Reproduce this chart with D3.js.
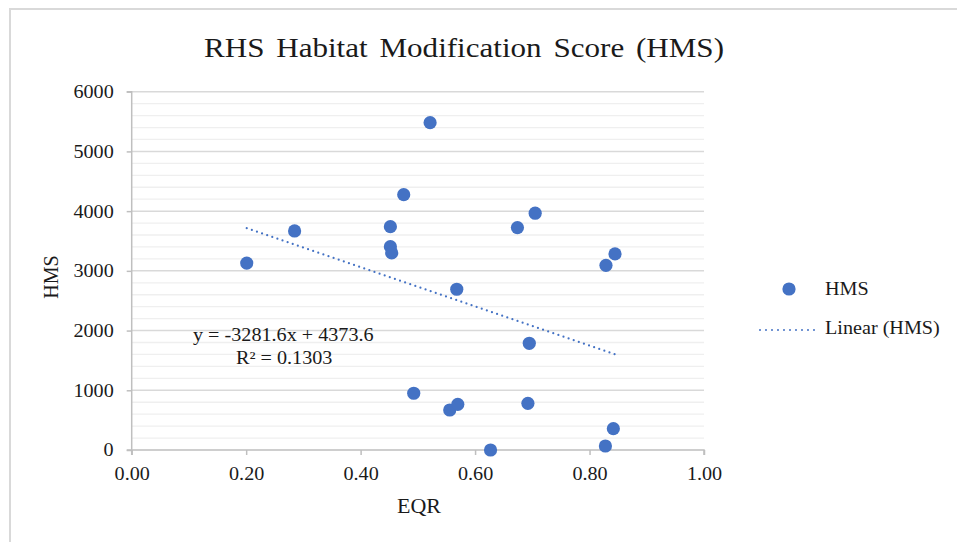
<!DOCTYPE html>
<html><head><meta charset="utf-8">
<script src="https://cdn.jsdelivr.net/npm/d3@7"></script>
<style>body{margin:0;background:#fff}svg{display:block}</style>
</head><body><svg id="c" width="957" height="542"></svg>
<script>
const eqr = [0.201,0.2846,0.5214,0.4753,0.452,0.452,0.4543,0.674,0.705,0.8445,0.8287,0.568,0.6947,0.4928,0.5557,0.5698,0.6923,0.8416,0.8277,0.627];
const hms = [3130,3668,5482,4276,3740,3405,3300,3724,3965,3283,3093,2692,1787,950,670,765,782,357,67,0];
const xTicks = [0,0.2,0.4,0.6,0.8,1.0];
const yTicks = [0,1000,2000,3000,4000,5000,6000];
const slope = -3281.6, intercept = 4373.6;
const eqLabel = "y = -3281.6x + 4373.6";
const r2Label = "R² = 0.1303";
const title = "RHS Habitat Modification Score (HMS)";
const legendLabels = ["HMS","Linear (HMS)"];
const blue = "#4472C4";
const FONT = "'Liberation Serif','Times New Roman',serif";
const TXT = "#1a1a1a";

const svg = d3.select("#c");
svg.append("rect").attr("x",10).attr("y",9).attr("width",960).attr("height",540).attr("fill","none").attr("stroke","#d9d9d9").attr("stroke-width",2);

const x = d3.scaleLinear().domain([0,1]).range([131.7,704]);
const y = d3.scaleLinear().domain([0,6000]).range([450,91.7]);

// stretch helper: widen glyphs horizontally keeping the anchor point
function stretch(sel, k){
  sel.each(function(){
    const t = d3.select(this);
    const L = this.getComputedTextLength();
    const anchor = t.attr("text-anchor") || getComputedStyle(this).textAnchor || "start";
    const x0 = +(t.attr("x")||0);
    const W = L*k;
    let xs = x0;
    if(anchor==="middle") xs = x0 - W/2; else if(anchor==="end") xs = x0 - W;
    t.attr("text-anchor","start").attr("x",xs).attr("textLength",W).attr("lengthAdjust","spacingAndGlyphs");
  });
}

// minor grid
const minor = d3.range(200,6000,200).filter(v=>v%1000!==0);
svg.append("g").selectAll("line").data(minor).join("line")
  .attr("x1",x(0)).attr("x2",x(1)).attr("y1",d=>y(d)).attr("y2",d=>y(d))
  .attr("stroke","#efefef").attr("stroke-width",1.3);
// major grid
svg.append("g").selectAll("line").data(yTicks.filter(v=>v>0)).join("line")
  .attr("x1",x(0)).attr("x2",x(1)).attr("y1",d=>y(d)).attr("y2",d=>y(d))
  .attr("stroke","#d9d9d9").attr("stroke-width",1.5);

// axes
const xa = svg.append("g").attr("transform",`translate(0,${y(0)})`)
  .call(d3.axisBottom(x).tickValues(xTicks).tickFormat(d3.format(".2f")).tickSize(5));
const ya = svg.append("g").attr("transform",`translate(${x(0)},0)`)
  .call(d3.axisLeft(y).tickValues(yTicks).tickFormat(d=>d).tickSize(5));
[xa,ya].forEach(a=>{
  a.attr("font-family",FONT).attr("font-size",18);
  a.selectAll("path,line").attr("stroke","#bfbfbf").attr("stroke-width",1.5);
  a.selectAll("text").attr("fill",TXT);
});
xa.select(".domain").attr("d",`M${x(0)},5V0H${x(1)}V5`);
ya.select(".domain").attr("d",`M-5,${y(0)}H0V${y(6000)}H-5`);
xa.selectAll(".tick text").attr("dy",null).attr("y",30);
ya.selectAll(".tick text").attr("dy","0.33em").attr("x",-18);
stretch(xa.selectAll(".tick text"),1.12);
stretch(ya.selectAll(".tick text"),1.12);

// trendline
const xmin = d3.min(eqr), xmax = d3.max(eqr);
svg.append("line").attr("x1",x(xmin)).attr("y1",y(slope*xmin+intercept))
  .attr("x2",x(xmax)).attr("y2",y(slope*xmax+intercept))
  .attr("stroke",blue).attr("stroke-width",2.2).attr("stroke-dasharray","0 5.4").attr("stroke-linecap","round");

// points
svg.append("g").selectAll("circle").data(eqr.map((e,i)=>[e,hms[i]])).join("circle")
  .attr("cx",d=>x(d[0])).attr("cy",d=>y(d[1])).attr("r",6.6).attr("fill",blue);

const T = svg.append("g").attr("font-family",FONT).attr("fill",TXT);
// equation
const e1 = T.append("text").attr("x",193).attr("y",341).attr("font-size",18).text(eqLabel);
const e2 = T.append("text").attr("x",236).attr("y",364).attr("font-size",18).text(r2Label);
stretch(e1,1.12); stretch(e2,1.12);

// title
const tt = T.append("text").attr("x",204).attr("y",57).attr("font-size",27).attr("word-spacing",3.5).text(title);
tt.attr("textLength",520).attr("lengthAdjust","spacingAndGlyphs");

// axis titles
const xt = T.append("text").attr("x",419).attr("y",513).attr("text-anchor","middle").attr("font-size",20).text("EQR");
stretch(xt,1.1);
const ytg = T.append("g").attr("transform","translate(58,277) rotate(-90)");
const yt = ytg.append("text").attr("x",0).attr("y",0).attr("text-anchor","middle").attr("font-size",20).text("HMS");
stretch(yt,1.0);

// legend
svg.append("circle").attr("cx",789).attr("cy",289).attr("r",6.6).attr("fill",blue);
const l1 = T.append("text").attr("x",825).attr("y",295).attr("font-size",18).text(legendLabels[0]);
svg.append("line").attr("x1",760).attr("x2",815).attr("y1",330).attr("y2",330)
  .attr("stroke",blue).attr("stroke-width",2).attr("stroke-dasharray","0 6").attr("stroke-linecap","round");
const l2 = T.append("text").attr("x",825).attr("y",334).attr("font-size",18).text(legendLabels[1]);
stretch(l1,1.12); stretch(l2,1.12);
</script></body></html>
